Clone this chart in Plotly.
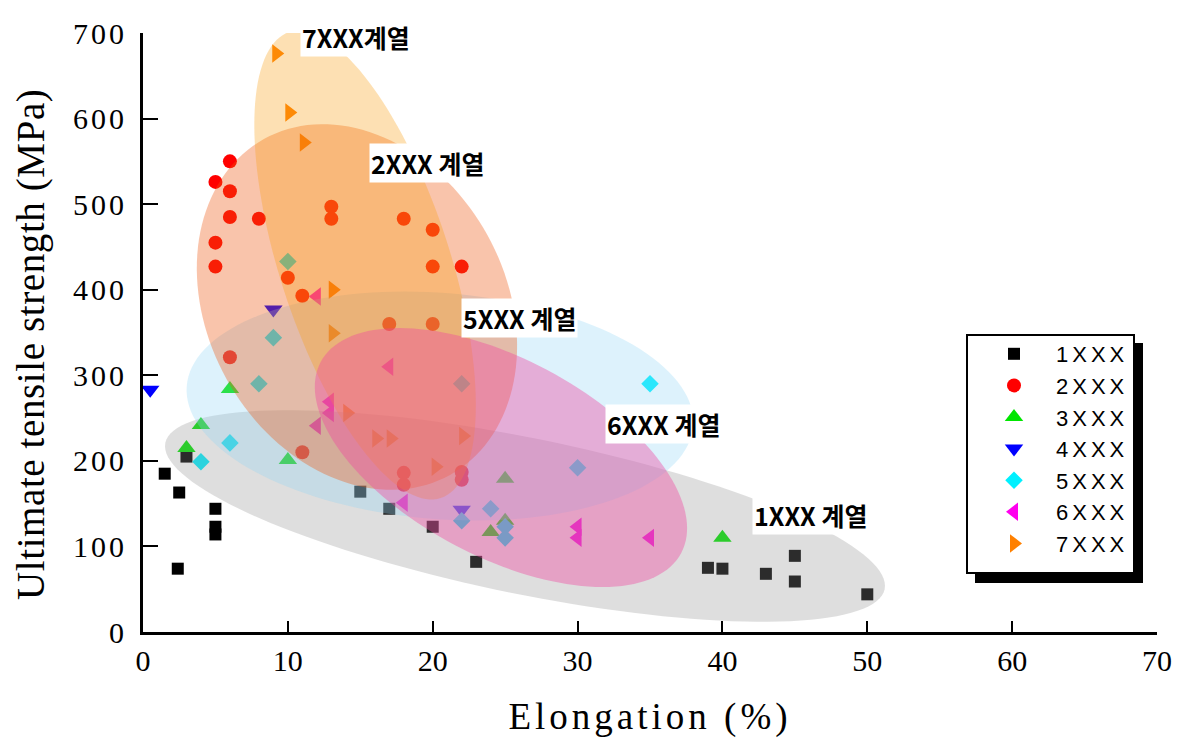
import numpy as np
import plotly.graph_objects as go

# ---------------- data ----------------
series_names = ["1XXX", "2XXX", "3XXX", "4XXX", "5XXX", "6XXX", "7XXX"]

x_1xxx = [1.5, 2.5, 3.0, 5.0, 5.0, 5.0, 2.4, 15.0, 17.0, 20.0, 23.0, 39.0, 40.0, 43.0, 45.0, 45.0, 50.0]
y_1xxx = [185, 163, 205, 144, 123, 114, 74, 164, 144, 123, 82, 75, 74, 68, 89, 59, 44]

x_2xxx = [6, 5, 6, 6, 8, 13, 13, 18, 20, 5, 5, 20, 22, 10, 11, 17, 20, 6, 11, 18, 18, 22, 22]
y_2xxx = [550, 526, 515, 485, 483, 497, 483, 483, 470, 455, 427, 427, 427, 414, 393, 360, 360, 321, 210, 186, 172, 187, 178]

x_3xxx = [6, 4, 3, 10, 25, 24, 25, 40]
y_3xxx = [284, 242, 215, 201, 179, 117, 130, 110]

x_4xxx = [0.5, 9, 22]
y_4xxx = [283, 377, 143]

x_5xxx = [10, 9, 8, 6, 4, 22, 24, 22, 25, 25, 35, 30]
y_5xxx = [433, 344, 290, 221, 199, 290, 144, 130, 123, 110, 290, 192]

x_6xxx = [12, 17, 12.9, 12.9, 12, 18, 30, 30, 35]
y_6xxx = [392, 310, 269, 256, 241, 151, 123, 110, 110]

x_7xxx = [9.2, 10.1, 11.1, 13.1, 13.1, 14.1, 16.1, 17.1, 22.1, 20.2]
y_7xxx = [676, 607, 572, 400, 349, 256, 226, 226, 229, 193]

series_x = [x_1xxx, x_2xxx, x_3xxx, x_4xxx, x_5xxx, x_6xxx, x_7xxx]
series_y = [y_1xxx, y_2xxx, y_3xxx, y_4xxx, y_5xxx, y_6xxx, y_7xxx]
symbols = ["square", "circle", "triangle-up", "triangle-down", "diamond", "triangle-left", "triangle-right"]
colors = ["#000000", "#FF0000", "#00E600", "#0000FF", "#00F0FF", "#FF00EE", "#FF8000"]
sizes = [12, 14, 16, 16, 13.5, 16, 16]

x_ticks = [0, 10, 20, 30, 40, 50, 60, 70]
y_ticks = [0, 100, 200, 300, 400, 500, 600, 700]

x_title = "Elongation (%)"
y_title = "Ultimate tensile strength (MPa)"

# group regions: label, centre (x, y data), semi-axes (px), angle (deg), colour
region_labels = ["1XXX 계열", "5XXX 계열", "2XXX 계열", "7XXX계열", "6XXX 계열"]
region_cx = [26.37, 20.50, 14.77, 15.33, 24.71]
region_cy = [135.6, 264.1, 379.8, 428.9, 203.9]
region_a = [367, 254, 192, 245, 204]
region_b = [78, 113, 149, 85, 99]
region_ang = [11.5, 4.5, 61, 72, 27.9]
region_fill = ["rgba(146,146,146,0.30)", "rgba(142,212,245,0.30)",
               "rgba(238,85,14,0.35)", "rgba(248,160,18,0.32)",
               "rgba(240,70,160,0.40)"]
label_x = [46.1, 25.96, 19.61, 14.70, 35.9]
label_y = [136.7, 367, 548, 695, 243]

# ---------------- layout geometry ----------------
W, H = 1190, 752
ML, MR, MT, MB = 143, 33, 33, 120
XR = (0, 70)
YR = (0, 700)
px_x = (W - ML - MR) / (XR[1] - XR[0])
px_y = (H - MT - MB) / (YR[1] - YR[0])


def ellipse_path(cx, cy, a, b, ang):
    t = np.linspace(0, 2 * np.pi, 145)
    phi = np.radians(ang)
    dxp = a * np.cos(t) * np.cos(phi) - b * np.sin(t) * np.sin(phi)
    dyp = a * np.cos(t) * np.sin(phi) + b * np.sin(t) * np.cos(phi)
    xs = cx + dxp / px_x
    ys = cy - dyp / px_y
    pts = ["%s%.4f,%.4f" % ("M" if i == 0 else "L", xx, yy) for i, (xx, yy) in enumerate(zip(xs, ys))]
    return " ".join(pts) + " Z"


def spaced(txt, px):
    return '<span style="letter-spacing:%spx">%s</span>' % (px, txt)


def px2paper_x(p):
    return (p - ML) / (W - ML - MR)


def px2paper_y(p):
    return (H - MB - p) / (H - MT - MB)


fig = go.Figure()
for name, xs, ys, sym, col, sz in zip(series_names, series_x, series_y, symbols, colors, sizes):
    fig.add_trace(go.Scatter(
        x=xs, y=ys, mode="markers", name=spaced(name, 4),
        marker=dict(symbol=sym, color=col, size=sz, line=dict(width=0)),
    ))

shapes = []
for cx, cy, a, b, ang, fc in zip(region_cx, region_cy, region_a, region_b, region_ang, region_fill):
    shapes.append(dict(type="path", path=ellipse_path(cx, cy, a, b, ang), xref="x", yref="y",
                       fillcolor=fc, line=dict(width=0), layer="above"))

# legend frame with shadow
shapes.append(dict(type="rect", xref="paper", yref="paper",
                   x0=px2paper_x(975), x1=px2paper_x(1143), y0=px2paper_y(583), y1=px2paper_y(343),
                   fillcolor="black", line=dict(width=0), layer="above"))
shapes.append(dict(type="rect", xref="paper", yref="paper",
                   x0=px2paper_x(967), x1=px2paper_x(1134), y0=px2paper_y(573), y1=px2paper_y(335),
                   fillcolor="white", line=dict(color="black", width=2), layer="above"))

serif = "Times New Roman, Liberation Serif, serif"

annotations = []
for lab, lx, ly in zip(region_labels, label_x, label_y):
    annotations.append(dict(x=lx, y=ly, xref="x", yref="y", text="<b>%s</b>" % lab, showarrow=False,
                            font=dict(family="Noto Sans CJK KR", size=25, color="black"),
                            bgcolor="white", borderpad=1))
# y-axis title
annotations.append(dict(x=px2paper_x(31), y=px2paper_y(345), xref="paper", yref="paper",
                        text=spaced(y_title, 0.6), textangle=-90, showarrow=False,
                        xanchor="center", yanchor="middle",
                        font=dict(family=serif, size=39, color="black")))

fig.update_layout(
    width=W, height=H,
    margin=dict(l=ML, r=MR, t=MT, b=MB),
    paper_bgcolor="white", plot_bgcolor="white",
    shapes=shapes, annotations=annotations,
    showlegend=True,
    legend=dict(x=px2paper_x(972), y=px2paper_y(333), xanchor="left", yanchor="top",
                bgcolor="rgba(0,0,0,0)", borderwidth=0, itemwidth=74, tracegroupgap=0,
                font=dict(family="Arial, Liberation Sans, sans-serif", size=22, color="black")),
    xaxis=dict(range=list(XR), tickvals=x_ticks, showgrid=False, zeroline=False,
               showline=True, linecolor="black", linewidth=3,
               ticks="inside", ticklen=11, tickwidth=2, tickcolor="black",
               tickfont=dict(family=serif, size=30, color="black"), ticklabelstandoff=0,
               title=dict(text=spaced(x_title, 4), font=dict(family=serif, size=37, color="black"), standoff=28)),
    yaxis=dict(range=list(YR), tickvals=y_ticks, ticktext=[spaced(str(v), 3) for v in y_ticks],
               showgrid=False, zeroline=False,
               showline=True, linecolor="black", linewidth=3,
               ticks="inside", ticklen=15, tickwidth=2, tickcolor="black",
               tickfont=dict(family=serif, size=30, color="black"), ticklabelstandoff=7),
)

fig.write_html("out.html", config={"displayModeBar": False},
               post_script="document.body.style.margin='0px';")
